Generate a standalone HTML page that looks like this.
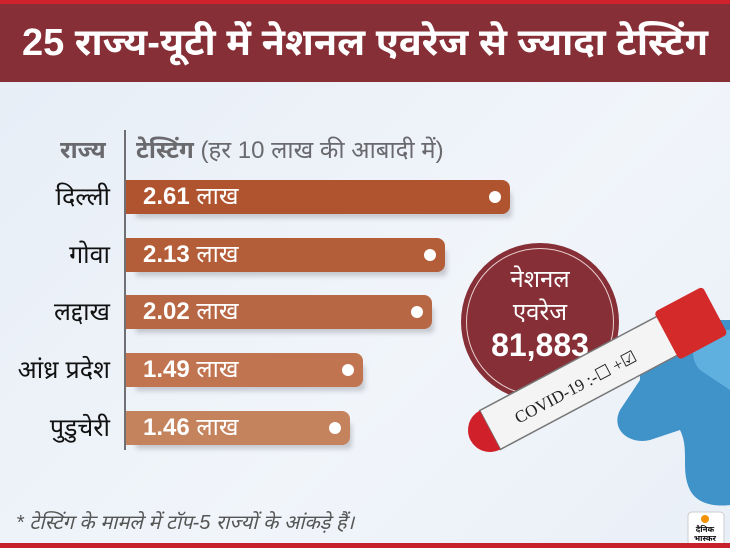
<!DOCTYPE html>
<html><head><meta charset="utf-8"><style>
*{margin:0;padding:0;box-sizing:border-box}
body{width:730px;height:548px;overflow:hidden;position:relative;background:linear-gradient(135deg,#e6edf6,#f1f5fa 60%,#e9eff7);font-family:"Liberation Sans","Noto Sans Devanagari","Lohit Devanagari",sans-serif}
.top{position:absolute;left:0;top:0;width:730px;height:4px;background:#d0222c}
.hdr{position:absolute;left:0;top:4px;width:730px;height:78px;background:#862f37;color:#fff;font-weight:bold;font-size:38px;text-align:center;line-height:78px;white-space:nowrap}
.bot{position:absolute;left:0;top:543px;width:730px;height:5px;background:#c8202a}
.vl{position:absolute;left:124px;top:130px;width:2px;height:320px;background:#6f6f74}
.lab{position:absolute;right:620px;font-size:25px;color:#111;text-align:right;white-space:nowrap}
.bar{position:absolute;left:126px;height:34px;border-radius:0 8px 8px 0;color:#fff;font-size:24px;line-height:34px;padding-left:17px;white-space:nowrap;box-shadow:6px 8px 5px -4px rgba(120,120,130,.35)}
.bar b{font-weight:bold}
.dot{position:absolute;right:9px;top:11px;width:12px;height:12px;border-radius:50%;background:#fff}
.hd{position:absolute;top:136px;font-size:24px;color:#6a6a6e;white-space:nowrap}
.circ{position:absolute;left:461px;top:243px;width:158px;height:158px;border-radius:50%;background:#862f37;color:#fff;text-align:center}
.circ .r{position:absolute;left:5px;top:5px;width:148px;height:148px;border-radius:50%;border:1.5px solid #e9cfcf}
.foot{position:absolute;left:16px;top:512px;font-size:20px;color:#555;font-style:italic;white-space:nowrap}
</style></head><body>
<div class="top"></div>
<div class="hdr">25 राज्य-यूटी में नेशनल एवरेज से ज्यादा टेस्टिंग</div>
<div class="hd" style="left:60px;font-weight:bold">राज्य</div>
<div class="hd" style="left:136px"><b>टेस्टिंग</b> (हर 10 लाख की आबादी में)</div>
<div class="vl"></div>
<div class="lab" style="top:183px">दिल्ली</div>
<div class="lab" style="top:241px">गोवा</div>
<div class="lab" style="top:298px">लद्दाख</div>
<div class="lab" style="top:356px">आंध्र प्रदेश</div>
<div class="lab" style="top:414px">पुडुचेरी</div>
<div class="bar" style="top:180px;width:384px;background:#b0532f"><b>2.61</b> लाख<div class="dot"></div></div>
<div class="bar" style="top:238px;width:319px;background:#b45d39"><b>2.13</b> लाख<div class="dot"></div></div>
<div class="bar" style="top:295px;width:306px;background:#b86744"><b>2.02</b> लाख<div class="dot"></div></div>
<div class="bar" style="top:353px;width:237px;background:#c07550"><b>1.49</b> लाख<div class="dot"></div></div>
<div class="bar" style="top:411px;width:224px;background:#c4825d"><b>1.46</b> लाख<div class="dot"></div></div>
<div class="circ"><div class="r"></div>
<div style="position:absolute;top:22px;width:100%;font-size:24px">नेशनल</div>
<div style="position:absolute;top:55px;width:100%;font-size:24px">एवरेज</div>
<div style="position:absolute;top:84px;width:100%;font-size:32px;font-weight:bold">81,883</div>
</div>
<svg style="position:absolute;left:0;top:0" width="730" height="548">
<path d="M700 320 C660 320 640 345 640 380 L620 410 C610 430 630 445 650 440 L680 430 C690 450 680 470 690 490 C700 510 730 505 730 505 L730 320 Z" fill="#3f93c9"/>
<path d="M705 330 C690 340 690 360 700 370 L730 390 L730 330 Z" fill="#5fb0de"/>
<g transform="translate(490,430) rotate(-28)">
<rect x="0" y="-22" width="210" height="44" fill="#f4f4f4" stroke="#777" stroke-width="1.5"/>
<path d="M0 -22 A22 22 0 0 0 0 22 Z" fill="#d0202a"/>
<rect x="200" y="-27" width="55" height="54" rx="4" fill="#d42a2a"/>
<text x="28" y="8" font-family="Liberation Serif" font-size="17" fill="#222">COVID-19 :-☐ +☑</text>
</g>
<rect x="688" y="512" width="36" height="34" rx="4" fill="#fff" stroke="#ccc"/>
<circle cx="705" cy="519" r="4" fill="#f39200"/>
<text x="705" y="532" font-size="8" font-weight="bold" text-anchor="middle" fill="#111">दैनिक</text>
<text x="705" y="541" font-size="8" font-weight="bold" text-anchor="middle" fill="#111">भास्कर</text>
</svg>
<div class="foot">* टेस्टिंग के मामले में टॉप-5 राज्यों के आंकड़े हैं।</div>
<div class="bot"></div>
</body></html>
